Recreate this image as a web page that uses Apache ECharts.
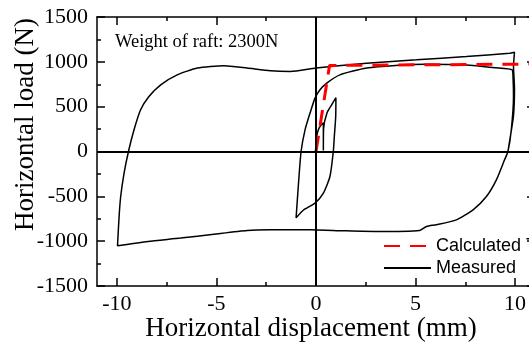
<!DOCTYPE html>
<html><head><meta charset="utf-8">
<script src="https://cdn.jsdelivr.net/npm/echarts@6/dist/echarts.min.js"></script>
<style>html,body{margin:0;padding:0;background:#fff;}#c{width:529px;height:345px;}</style>
</head><body><div id="c"></div>
<script>
// ---- data ----
const xMajorTicks = [-10, -5, 0, 5, 10];
const xMinorTicks = [-7.5, -2.5, 2.5, 7.5];
const measuredX = [0, 0.02, 0.15, 0.37, 0.37, 0.38, 0.55, 0.8, 1.0, 0.99, 0.92, 0.87, 0.7, 0.37, -0.05, -0.64, -1.0,
  -0.89, -0.75, -0.55, -0.3, -0.05, 0.2, 0.54, 1.2, 2.54, 4, 5.5, 7.5, 9, 9.85, 9.9, 9.92, 9.81, 9.64,
  9.47, 9.06, 8.56, 7.89, 7.05, 6.05, 5.55, 5.21, 3.04, 1.37, -0.3, -0.95, -2.29, -3.46, -5.13, -6.8, -8.44, -9.97,
  -9.89, -9.81, -9.64, -9.42, -9.14, -8.81, -8.39, -7.8, -6.97, -5.96, -4.63, -3.46, -2.29, -1.29, 0,
  2.54, 5.05, 7.55, 9.72, 9.97, 9.92, 9.97, 9.92, 9.75, 9.64];
const measuredY = [0, 150, 260, 320, 10, 250, 430, 525, 600, 390, 167, 0, -279, -464, -575, -655, -740,
  -390, 0, 242, 428, 595, 688, 763, 855, 930, 960, 972, 965, 935, 911, 800, 613, 242, 0,
  -93, -316, -502, -650, -762, -817, -836, -880, -892, -884, -873, -873, -873, -880, -922, -966, -1003, -1051,
  -725, -502, -241, 0, 242, 465, 613, 744, 855, 930, 956, 930, 900, 892, 930,
  985, 1022, 1059, 1097, 1108, 950, 700, 400, 150, 0];
const calculatedX = [0, 0.68, 11];
const calculatedY = [0, 960, 975];
const seriesNames = ['Calculated Theory', 'Measured'];

const zip = (xs, ys) => xs.map((x, i) => [x, ys[i]]);
const serif = 'Liberation Serif';
const black = '#000';
const plain = v => String(v);

function xAxisDef(pos, ticks, len, showLine, extra) {
  return Object.assign({
    type: 'value', min: -11, max: 11, position: pos,
    axisLine: { show: showLine, onZero: false, lineStyle: { color: black, width: 1.5 } },
    axisTick: { show: true, inside: true, length: len, customValues: ticks, lineStyle: { color: black, width: 1.5 } },
    axisLabel: { show: false },
    splitLine: { show: false }
  }, extra || {});
}
function yAxisDef(pos, showLabel, extra) {
  return Object.assign({
    type: 'value', min: -1500, max: 1500, interval: 500, position: pos,
    axisLine: { show: true, onZero: false, lineStyle: { color: black, width: 1.5 } },
    axisTick: { show: true, inside: true, length: 8, lineStyle: { color: black, width: 1.5 } },
    minorTick: { show: true, splitNumber: 2, length: 4, lineStyle: { color: black, width: 1.5 } },
    axisLabel: { show: showLabel, fontFamily: serif, fontSize: 22, color: black, margin: 9, formatter: plain },
    splitLine: { show: false }
  }, extra || {});
}

const chart = echarts.init(document.getElementById('c'), null, { renderer: 'canvas' });
chart.setOption({
  animation: false,
  backgroundColor: '#fff',
  grid: { left: 97, top: 17, width: 438, height: 269, containLabel: false, outerBoundsMode: 'none' },
  title: {
    text: 'Weight of raft: 2300N', left: 115, top: 33, padding: 0,
    textStyle: { fontFamily: serif, fontSize: 18.5, fontWeight: 'normal', color: black }
  },
  legend: {
    orient: 'vertical', left: 383, top: 236, padding: 0, itemWidth: 47, itemHeight: 14, itemGap: 2,
    selectedMode: false, data: seriesNames,
    itemStyle: { opacity: 0 },
    textStyle: { fontFamily: 'Liberation Sans', fontSize: 18, color: black, lineHeight: 20 }
  },
  xAxis: [
    xAxisDef('bottom', xMajorTicks, 8, true, {
      axisLabel: { show: true, customValues: xMajorTicks, fontFamily: serif, fontSize: 22, color: black, margin: 7, formatter: plain },
      name: 'Horizontal displacement (mm)', nameLocation: 'middle', nameGap: 29, nameMoveOverlap: false,
      nameTextStyle: { fontFamily: serif, fontSize: 27, color: black, padding: [0, 10, 0, 0] }
    }),
    xAxisDef('bottom', xMinorTicks, 4, false),
    xAxisDef('top', xMajorTicks, 8, true),
    xAxisDef('top', xMinorTicks, 4, false)
  ],
  yAxis: [
    yAxisDef('left', true, {
      name: 'Horizontal load (N)', nameLocation: 'middle', nameGap: 58, nameMoveOverlap: false,
      nameTextStyle: { fontFamily: serif, fontSize: 27, color: black, padding: [0, 0, 0, 54] }
    }),
    yAxisDef('right', false)
  ],
  series: [
    {
      name: seriesNames[1], type: 'line', xAxisIndex: 0, yAxisIndex: 0,
      data: zip(measuredX, measuredY), symbol: 'none', smooth: 0.2,
      lineStyle: { color: black, width: 1.5 }, itemStyle: { color: black },
      markLine: {
        silent: true, symbol: ['none', 'none'], label: { show: false },
        lineStyle: { color: black, width: 2, type: 'solid' },
        emphasis: { disabled: true },
        data: [{ xAxis: 0 }, { yAxis: 0 }]
      }
    },
    {
      name: seriesNames[0], type: 'line', xAxisIndex: 0, yAxisIndex: 0,
      data: zip(calculatedX, calculatedY), symbol: 'none',
      lineStyle: { color: '#ff0000', width: 3, type: [16, 10] }, itemStyle: { color: '#ff0000' }
    }
  ]
});
</script>
</body></html>
